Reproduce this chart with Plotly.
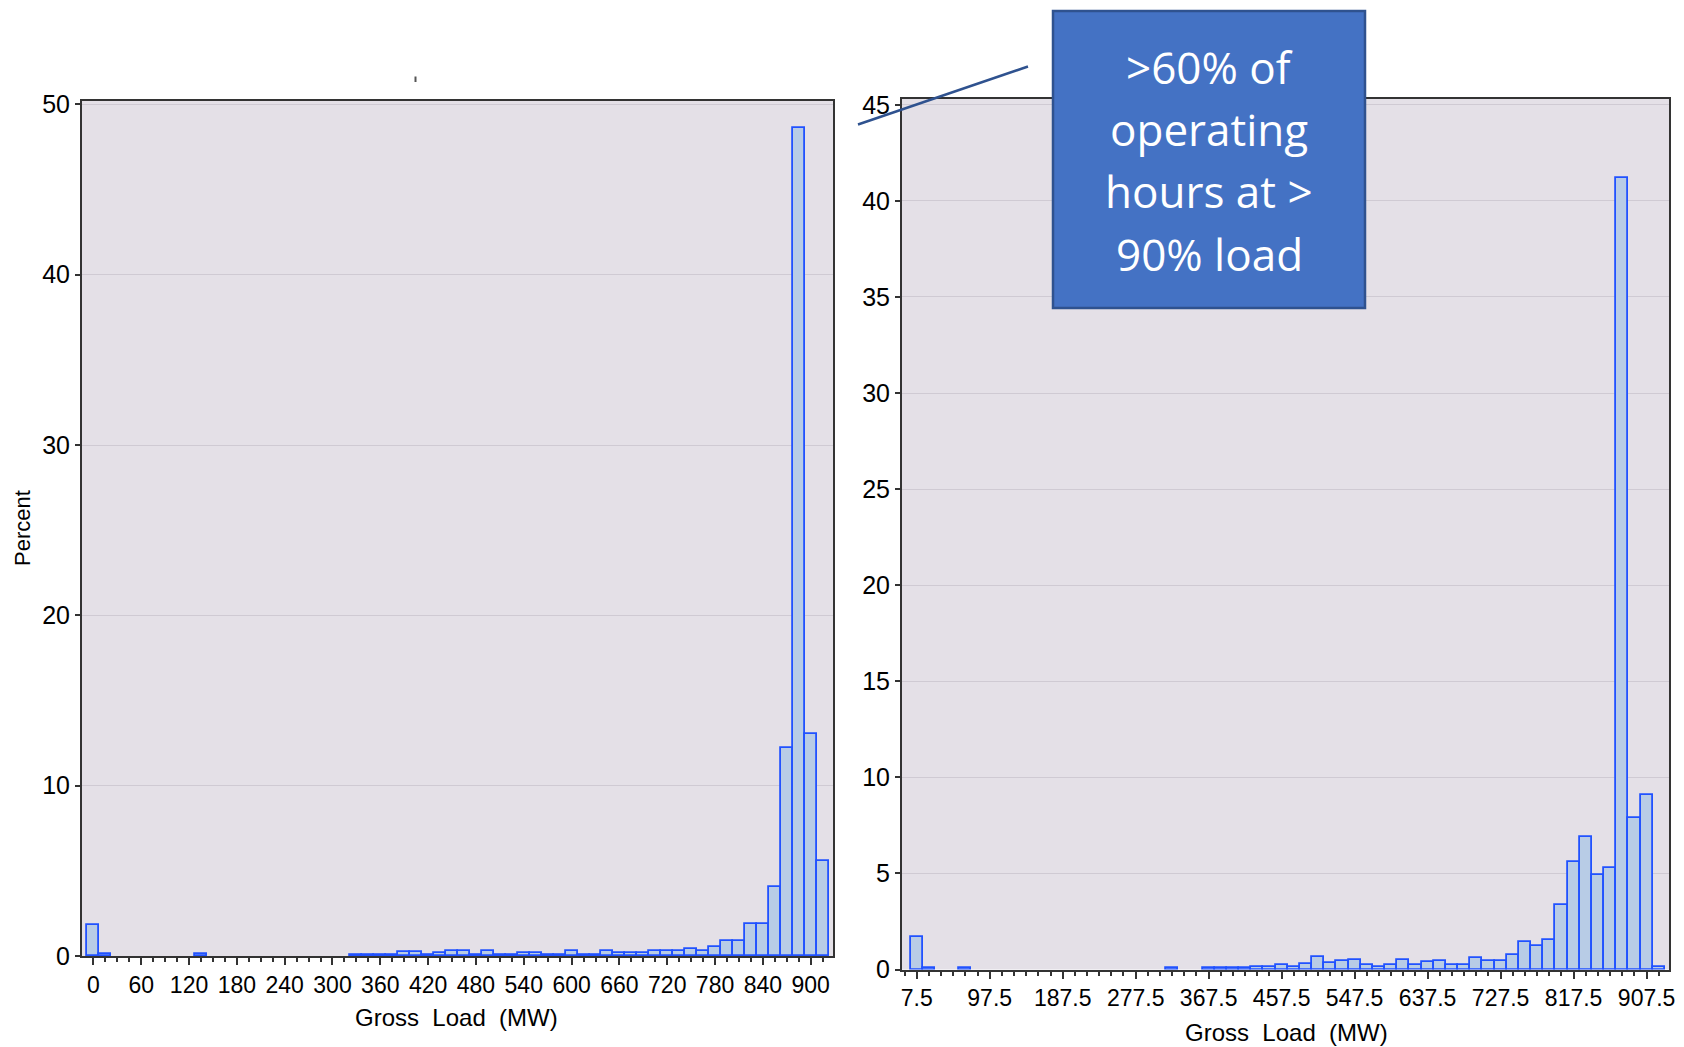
import plotly.graph_objects as go

# ---------------- data ----------------
# Left histogram (bin width 15 MW, bins centred on multiples of 15)
left_centers = [0, 15, 135, 330, 345, 360, 375, 390, 405, 420, 435, 450, 465, 480,
                495, 510, 525, 540, 555, 570, 585, 600, 615, 630, 645, 660, 675, 690,
                705, 720, 735, 750, 765, 780, 795, 810, 825, 840, 855, 870, 885, 900, 915]
left_percent = [1.8, 0.1, 0.1, 0.08, 0.08, 0.08, 0.08, 0.22, 0.22, 0.08, 0.2, 0.32, 0.32, 0.08,
                0.3, 0.08, 0.08, 0.16, 0.16, 0.08, 0.08, 0.31, 0.08, 0.08, 0.29, 0.18, 0.16, 0.18,
                0.29, 0.29, 0.29, 0.41, 0.29, 0.53, 0.88, 0.88, 1.86, 1.86, 4.05, 12.2, 48.6, 13.05, 5.6]

# Right histogram (bin width 15 MW, bins centred on 7.5 + 15k)
right_centers = [7.5, 22.5, 67.5, 322.5, 367.5, 382.5, 397.5, 412.5, 427.5, 442.5, 457.5, 472.5,
                 487.5, 502.5, 517.5, 532.5, 547.5, 562.5, 577.5, 592.5, 607.5, 622.5, 637.5,
                 652.5, 667.5, 682.5, 697.5, 712.5, 727.5, 742.5, 757.5, 772.5, 787.5, 802.5,
                 817.5, 832.5, 847.5, 862.5, 877.5, 892.5, 907.5, 922.5]
right_percent = [1.68, 0.07, 0.07, 0.07, 0.06, 0.06, 0.06, 0.06, 0.14, 0.14, 0.21, 0.14,
                 0.28, 0.66, 0.35, 0.42, 0.52, 0.26, 0.12, 0.26, 0.52, 0.21, 0.37,
                 0.44, 0.26, 0.26, 0.59, 0.44, 0.44, 0.75, 1.45, 1.22, 1.54, 3.37,
                 5.6, 6.9, 4.9, 5.3, 41.2, 7.9, 9.1, 0.12]

left_xticks = [0, 60, 120, 180, 240, 300, 360, 420, 480, 540, 600, 660, 720, 780, 840, 900]
right_xticks = [7.5, 97.5, 187.5, 277.5, 367.5, 457.5, 547.5, 637.5, 727.5, 817.5, 907.5]
left_yticks = [0, 10, 20, 30, 40, 50]
right_yticks = [0, 5, 10, 15, 20, 25, 30, 35, 40, 45]

callout_lines = [">60% of", "operating", "hours at >", "90% load"]
x_title = "Gross  Load  (MW)"
y_title = "Percent"

# ---------------- figure ----------------
W, H = 1684, 1047
def px(x):
    return x / W
def py(y):
    return 1 - y / H

BAR_FILL = "#B8CCE6"
BAR_LINE = "#2152FF"
FRAME = "#333333"
GRID = "#CFCAD3"
XTICKFONT = dict(family="Liberation Sans, Arial, sans-serif", size=23, color="black")
YTICKFONT = dict(family="Liberation Sans, Arial, sans-serif", size=25, color="black")

fig = go.Figure()
fig.add_trace(go.Bar(x=left_centers, y=left_percent, width=15, xaxis="x", yaxis="y",
                     marker=dict(color=BAR_FILL, line=dict(color=BAR_LINE, width=1.8)),
                     showlegend=False, hoverinfo="x+y"))
fig.add_trace(go.Bar(x=right_centers, y=right_percent, width=15, xaxis="x2", yaxis="y2",
                     marker=dict(color=BAR_FILL, line=dict(color=BAR_LINE, width=1.8)),
                     showlegend=False, hoverinfo="x+y"))

common_axis = dict(showline=True, mirror=True, linecolor=FRAME, linewidth=2,
                   ticks="outside", tickcolor=FRAME, tickwidth=1.5, zeroline=False,
                   automargin=False)

fig.update_layout(
    template="none",
    width=W, height=H, autosize=False,
    margin=dict(l=0, r=0, t=0, b=0, pad=0),
    paper_bgcolor="white",
    plot_bgcolor="#E4E0E7",
    bargap=0,
    showlegend=False,
    xaxis=dict(domain=[px(82), px(833)], range=[-14.3, 928], anchor="y",
               tickmode="array", tickvals=left_xticks, ticktext=[str(v) for v in left_xticks],
               ticklen=7, showgrid=False, tickfont=XTICKFONT,
               minor=dict(tickmode="linear", tick0=0, dtick=15, ticks="outside", ticklen=4,
                          tickcolor=FRAME, showgrid=False),
               **common_axis),
    yaxis=dict(domain=[py(956), py(101)], range=[0, 50.2], anchor="x",
               tickmode="array", tickvals=left_yticks, ticklen=5, tickfont=YTICKFONT,
               showgrid=True, gridcolor=GRID, gridwidth=1.2,
               **common_axis),
    xaxis2=dict(domain=[px(902), px(1669)], range=[-10.6, 935.1], anchor="y2",
                tickmode="array", tickvals=right_xticks, ticktext=[str(v) for v in right_xticks],
                ticklen=7, showgrid=False, tickfont=XTICKFONT,
                minor=dict(tickmode="linear", tick0=7.5, dtick=15, ticks="outside", ticklen=4,
                           tickcolor=FRAME, showgrid=False),
                **common_axis),
    yaxis2=dict(domain=[py(969.5), py(99)], range=[0, 45.3], anchor="x2",
                tickmode="array", tickvals=right_yticks, ticklen=5, tickfont=YTICKFONT,
                showgrid=True, gridcolor=GRID, gridwidth=1.2,
                **common_axis),
)

title_font = dict(family="Liberation Sans, Arial, sans-serif", size=24, color="black")
annotations = [
    dict(x=px(456), y=py(1017), xref="paper", yref="paper", text=x_title, showarrow=False,
         font=title_font, xanchor="center", yanchor="middle"),
    dict(x=px(1286), y=py(1032), xref="paper", yref="paper", text=x_title, showarrow=False,
         font=title_font, xanchor="center", yanchor="middle"),
    dict(x=px(22), y=py(528), xref="paper", yref="paper", text=y_title, showarrow=False,
         textangle=-90, font=dict(family="Liberation Sans, Arial, sans-serif", size=22, color="black"),
         xanchor="center", yanchor="middle"),
]
line_y = [67, 129, 191, 254]
for txt, yy in zip(callout_lines, line_y):
    annotations.append(dict(x=px(1209), y=py(yy), xref="paper", yref="paper", text=txt,
                            showarrow=False, xanchor="center", yanchor="middle",
                            font=dict(family="Open Sans, Noto Sans, sans-serif", size=44, color="white")))
fig.update_layout(annotations=annotations)

fig.update_layout(shapes=[
    dict(type="rect", xref="paper", yref="paper", x0=px(1053), x1=px(1365), y0=py(308), y1=py(11),
         fillcolor="#4472C4", line=dict(color="#2F528F", width=2.5), layer="above"),
    dict(type="line", xref="paper", yref="paper", x0=px(858), y0=py(124.5), x1=px(1028), y1=py(66.5),
         line=dict(color="#2F528F", width=2.5), layer="above"),
    dict(type="line", xref="paper", yref="paper", x0=px(415.5), y0=py(76.5), x1=px(415.5), y1=py(82),
         line=dict(color="#555555", width=2), layer="above"),
])

fig.write_html("out.html", config={"displayModeBar": False},
               post_script="document.body.style.margin='0';document.body.style.overflow='hidden';"
                           "document.documentElement.style.overflow='hidden';")
